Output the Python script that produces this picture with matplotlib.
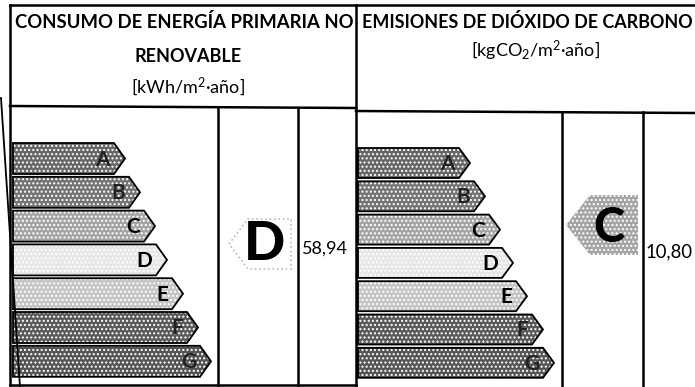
import matplotlib.pyplot as plt
from matplotlib.patches import Polygon

# Energy classes and the length (px) of each class arrow
classes = ['A', 'B', 'C', 'D', 'E', 'F', 'G']
energy_bar_len = [112, 127, 142, 154, 170, 185, 198]
co2_bar_len = [112, 127, 142, 155, 169, 185, 196]
class_grays = ['#666666', '#737373', '#a4a4a4', '#e6e6e6', '#c4c4c4', '#595959', '#545454']

energy_title = 'CONSUMO DE ENERGÍA PRIMARIA NO'
energy_title2 = 'RENOVABLE'
energy_unit = '[kWh/m$^{2}$·año]'
co2_title = 'EMISIONES DE DIÓXIDO DE CARBONO'
co2_unit = '[kgCO$_{2}$/m$^{2}$·año]'
energy_rating = 'D'
energy_value = '58,94'
co2_rating = 'C'
co2_value = '10,80'

FONT = ['Lato', 'DejaVu Sans']
plt.rcParams['mathtext.fontset'] = 'custom'
plt.rcParams['mathtext.rm'] = 'Lato'
plt.rcParams['mathtext.it'] = 'Lato'
plt.rcParams['mathtext.bf'] = 'Lato:bold'
plt.rcParams['mathtext.default'] = 'rm'


def fit_text(ax, x, y, s, width, ha='center', **kw):
    # size the text so that it spans `width` pixels
    t = ax.text(x, y, s, ha=ha, va='center', fontsize=10, family=FONT, **kw)
    r = ax.figure.canvas.get_renderer()
    w = t.get_window_extent(renderer=r).width
    t.set_fontsize(10 * width / w)
    return t


def arrow(ax, x0, y0, length, h, color, tip=11, hatch='....'):
    pts = [(x0, y0), (x0 + length - tip, y0), (x0 + length, y0 + h / 2),
           (x0 + length - tip, y0 + h), (x0, y0 + h)]
    ax.add_patch(Polygon(pts, closed=True, facecolor=color, edgecolor='white',
                         lw=0, hatch=hatch))
    ax.add_patch(Polygon(pts, closed=True, facecolor='none', edgecolor='black',
                         lw=1.3))


def scale(ax, x0, y0, pitch, h, lengths):
    for i, (c, L) in enumerate(zip(classes, lengths)):
        y = y0 + i * pitch
        arrow(ax, x0, y, L, h, class_grays[i])
        col = '#222222' if i in (0, 1, 5, 6) else 'black'
        ax.text(x0 + L - 15, y + h / 2 + 1, c, ha='right', va='center',
                fontsize=15, fontweight='bold', family=FONT, color=col)


def main():
    fig = plt.figure(figsize=(6.95, 3.87), dpi=100)
    ax = fig.add_axes([0, 0, 1, 1])
    ax.set_xlim(0, 695)
    ax.set_ylim(387, 0)
    ax.axis('off')

    # Table lines
    lw = 1.8
    ax.plot([10, 695], [5, 5], color='black', lw=lw)
    ax.plot([10, 10], [5, 385], color='black', lw=lw)
    ax.plot([356, 356], [5, 387], color='black', lw=lw)
    ax.plot([10, 356], [106, 108], color='black', lw=lw)
    ax.plot([356, 695], [111, 113], color='black', lw=lw)
    ax.plot([10, 356], [385, 385], color='black', lw=lw)
    for x in [218, 298]:
        ax.plot([x, x], [108, 385], color='black', lw=lw)
    for x in [562, 643]:
        ax.plot([x, x], [112, 387], color='black', lw=lw)
    # scan edge line
    ax.plot([1, 20], [98, 387], color='black', lw=1.3)

    # Headers
    fit_text(ax, 184, 22, energy_title, 337, fontweight='bold')
    ax.text(188, 56, energy_title2, ha='center', va='center', fontsize=13,
            fontweight='bold', family=FONT)
    ax.text(188, 87, energy_unit, ha='center', va='center', fontsize=13,
            family=FONT)
    fit_text(ax, 362, 22, co2_title, 330, ha='left', fontweight='bold')
    ax.text(535, 51, co2_unit, ha='center', va='center', fontsize=13,
            family=FONT)

    # Class scales
    scale(ax, 13, 143, 33.8, 31, energy_bar_len)
    scale(ax, 358, 148, 33.3, 30, co2_bar_len)

    # Ratings
    pts = [(229, 244), (248, 219), (291, 219), (291, 269), (248, 269)]
    ax.add_patch(Polygon(pts, closed=True, facecolor='white', edgecolor='#bbbbbb',
                         lw=1.2, linestyle=':'))
    ax.text(264, 245, energy_rating, ha='center', va='center', fontsize=39,
            fontweight='black', family=FONT, color='black')

    g = class_grays[classes.index(co2_rating)]
    pts = [(566, 225), (590, 195), (638, 195), (638, 255), (590, 255)]
    ax.add_patch(Polygon(pts, closed=True, facecolor=g, edgecolor='white',
                         lw=0, hatch='....'))
    ax.text(609, 228, co2_rating, ha='center', va='center', fontsize=34,
            fontweight='black', family=FONT, color='black')

    # Values
    fit_text(ax, 302, 249, energy_value, 46, ha='left')
    fit_text(ax, 646, 252, co2_value, 47, ha='left')

    fig.savefig('out.png', dpi=100)
    plt.close()


if __name__ == "__main__":
    main()
